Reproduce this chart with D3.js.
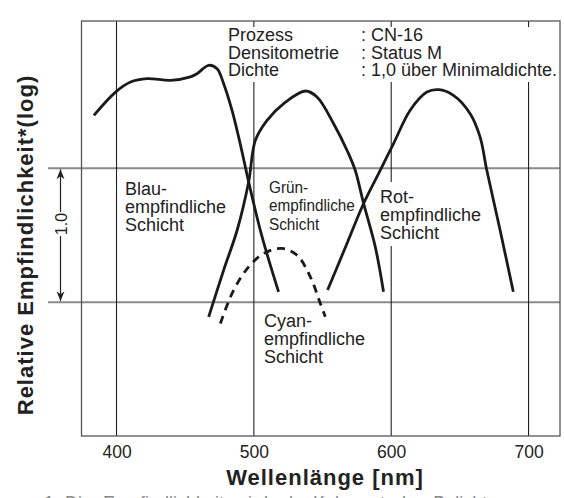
<!DOCTYPE html>
<html>
<head>
<meta charset="utf-8">
<script src="https://cdn.jsdelivr.net/npm/d3@7"></script>
<style>
  html, body { margin: 0; padding: 0; background: #fff; }
  svg { display: block; font-family: "Liberation Sans", Arial, Helvetica, sans-serif; }
</style>
</head>
<body>
<svg id="paper"></svg>
<script>
(function () {
    // wavelength [nm] vs. relative log sensitivity
    var blueNm   = [383.5, 399.3, 410.2, 422.3, 439.3, 453.8, 458.7, 467.1, 473.2, 478.0, 484.1, 488.9, 493.8, 496.2, 506.0, 518.0];
    var blueVal  = [1.395, 1.569, 1.644, 1.669, 1.657, 1.683, 1.707, 1.769, 1.744, 1.632, 1.433, 1.234, 1.010, 0.898, 0.487, 0.077];
    var greenNm  = [467.1, 478.0, 487.8, 496.2, 501.1, 509.6, 521.7, 537.5, 546.0, 558.0, 568.9, 573.8, 579.9, 588.4, 594.4];
    var greenVal = [-0.110, 0.239, 0.537, 0.898, 1.209, 1.358, 1.483, 1.577, 1.532, 1.334, 1.110, 0.985, 0.737, 0.413, 0.077];
    var redNm    = [553.7, 567.8, 579.9, 592.0, 601.7, 613.8, 626.0, 634.4, 645.3, 657.5, 664.7, 669.6, 679.3, 688.9];
    var redVal   = [0.090, 0.438, 0.737, 0.985, 1.184, 1.433, 1.569, 1.587, 1.545, 1.408, 1.234, 0.985, 0.537, 0.077];
    var cyanNm   = [475.6, 485.3, 496.2, 507.1, 520.5, 531.4, 541.1, 548.4, 552.0];
    var cyanVal  = [-0.159, 0.090, 0.263, 0.363, 0.401, 0.351, 0.189, -0.010, -0.110];

    var xTicks = [400, 500, 600, 700];
    var yLines = [0, 1.0];

    var infoKeys = ["Prozess", "Densitometrie", "Dichte"];
    var infoVals = [": CN-16", ": Status M", ": 1,0 über Minimaldichte."];

    var width = 564,
        height = 498;

    var svg = d3.select('#paper')
        .attr('width', width)
        .attr('height', height);

    var x = d3.scaleLinear().domain([374.5, 722.9]).range([81.5, 560]);
    var y = d3.scaleLinear().domain([-1.0, 2.1]).range([436, 21]);

    // horizontal lines (reach out to the 1.0 arrow)
    svg.selectAll("line.h")
        .data(yLines)
        .enter().append("line")
        .attr("x1", 48).attr("x2", 560)
        .attr("y1", d => y(d)).attr("y2", d => y(d))
        .attr("stroke", "#8a8a8a").attr("stroke-width", 2);

    // vertical grid lines
    svg.selectAll("line.v")
        .data(xTicks)
        .enter().append("line")
        .attr("x1", d => x(d)).attr("x2", d => x(d))
        .attr("y1", 21).attr("y2", 436)
        .attr("stroke", "#222").attr("stroke-width", 1.1);

    // tick labels
    var xAxis = d3.axisBottom(x).tickValues(xTicks).tickSize(0).tickFormat(d3.format("d"));
    var gx = svg.append("g").attr("transform", "translate(0,436)").call(xAxis);
    gx.select(".domain").remove();
    gx.selectAll(".tick line").remove();
    gx.selectAll(".tick text")
        .attr("y", 22).attr("dy", 0)
        .attr("fill", "#222")
        .style("font-size", "17.5px")
        .style("font-family", "'Liberation Sans', Arial, sans-serif");

    // frame
    svg.append("rect")
        .attr("x", 81.5).attr("y", 21)
        .attr("width", 560 - 81.5).attr("height", 436 - 21)
        .attr("fill", "none").attr("stroke", "#555").attr("stroke-width", 1.3);

    // white patches behind text blocks
    svg.append("rect").attr("x", 224).attr("y", 27).attr("width", 334).attr("height", 55).attr("fill", "#fff");
    svg.append("rect").attr("x", 376).attr("y", 182).attr("width", 110).attr("height", 64).attr("fill", "#fff");

    // process info block, one text element
    var info = svg.append("text").attr("fill", "#222").style("font-size", "18px");
    infoKeys.forEach(function (k, i) {
        info.append("tspan").attr("x", 228).attr("y", 41 + i * 17.5).text(k);
        info.append("tspan").attr("x", 361).attr("y", 41 + i * 17.5).text(infoVals[i]);
    });

    // curves
    var line = d3.line()
        .x(d => x(d[0]))
        .y(d => y(d[1]))
        .curve(d3.curveCatmullRom.alpha(0.5));

    var series = [
        {nm: blueNm, val: blueVal, dash: null},
        {nm: greenNm, val: greenVal, dash: null},
        {nm: redNm, val: redVal, dash: null},
        {nm: cyanNm, val: cyanVal, dash: "8,6"}
    ];

    svg.selectAll("path.curve")
        .data(series)
        .enter().append("path")
        .attr("class", "curve")
        .attr("d", s => line(d3.zip(s.nm, s.val)))
        .attr("fill", "none")
        .attr("stroke", "#1a1a1a")
        .attr("stroke-width", 2.8)
        .attr("stroke-dasharray", s => s.dash);

    // layer labels
    var labels = [
        {lines: ["Blau-", "empfindliche", "Schicht"], x: 125, y: 195, size: 18, sx: 1, lh: 17.8},
        {lines: ["Grün-", "empfindliche", "Schicht"], x: 269, y: 193, size: 17, sx: 0.9, lh: 18.5},
        {lines: ["Rot-", "empfindliche", "Schicht"], x: 380, y: 203, size: 18, sx: 1, lh: 17.8},
        {lines: ["Cyan-", "empfindliche", "Schicht"], x: 264, y: 327, size: 18, sx: 1, lh: 17.8}
    ];
    labels.forEach(function (l) {
        var t = svg.append("text")
            .attr("transform", "translate(" + l.x + "," + l.y + ") scale(" + l.sx + ",1)")
            .attr("fill", "#222")
            .style("font-size", l.size + "px");
        l.lines.forEach(function (s, i) {
            t.append("tspan").attr("x", 0).attr("y", i * l.lh).text(s);
        });
    });

    // 1.0 scale arrow
    var defs = svg.append("defs");
    defs.append("marker")
        .attr("id", "ah").attr("viewBox", "0 0 10 10")
        .attr("refX", 10).attr("refY", 5)
        .attr("markerWidth", 10).attr("markerHeight", 10)
        .attr("markerUnits", "userSpaceOnUse")
        .attr("orient", "auto")
        .append("path").attr("d", "M0,1 L10,5 L0,9 L3,5 Z").attr("fill", "#222");

    svg.append("line")
        .attr("x1", 60.5).attr("x2", 60.5)
        .attr("y1", 212).attr("y2", y(1.0) + 1)
        .attr("stroke", "#222").attr("stroke-width", 1.2)
        .attr("marker-end", "url(#ah)");
    svg.append("line")
        .attr("x1", 60.5).attr("x2", 60.5)
        .attr("y1", 236).attr("y2", y(0) - 1)
        .attr("stroke", "#222").attr("stroke-width", 1.2)
        .attr("marker-end", "url(#ah)");
    svg.append("text")
        .attr("transform", "translate(66.5,224) rotate(-90)")
        .attr("text-anchor", "middle")
        .attr("fill", "#222")
        .style("font-size", "16px")
        .text("1.0");

    // axis titles
    svg.append("text")
        .attr("x", 325).attr("y", 485)
        .attr("text-anchor", "middle")
        .attr("fill", "#222")
        .style("font-size", "22px").style("font-weight", "bold")
        .style("letter-spacing", "1px")
        .text("Wellenlänge [nm]");

    svg.append("text")
        .attr("transform", "translate(33,245) rotate(-90)")
        .attr("text-anchor", "middle")
        .attr("fill", "#222")
        .style("font-size", "22px").style("font-weight", "bold")
        .style("letter-spacing", "1px")
        .text("Relative Empfindlichkeit*(log)");

    // caption cut off by the bottom edge
    svg.append("text")
        .attr("x", 44).attr("y", 509)
        .attr("fill", "#888")
        .style("font-size", "18px")
        .style("word-spacing", "6px")
        .text("1  Die  Empfindlichkeit  wird  als  Kehrwert  der  Belichtung");
})();
</script>
</body>
</html>
